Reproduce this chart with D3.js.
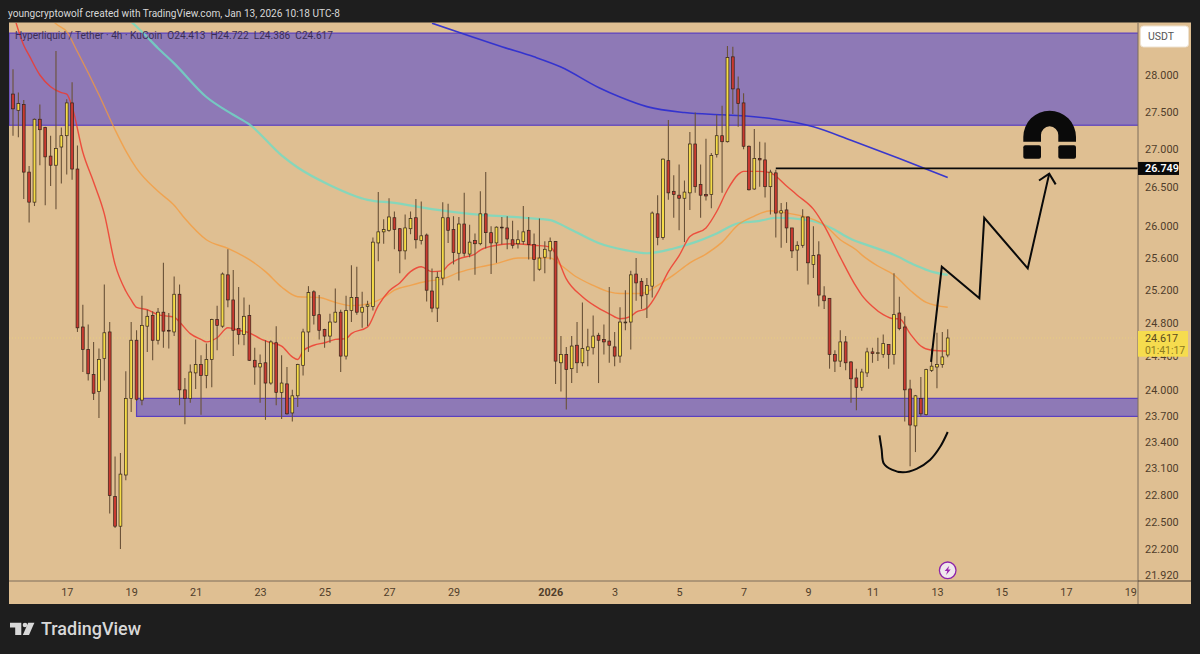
<!DOCTYPE html>
<html>
<head>
<meta charset="utf-8">
<script src="https://cdn.jsdelivr.net/npm/d3@7"></script>
<style>
html,body{margin:0;padding:0;background:#1e1e1e;overflow:hidden}
svg{display:block}
text{font-family:Roboto,"Noto Sans",sans-serif}
</style>
</head>
<body>
<svg id="c" width="1200" height="654"></svg>
<script>
const opens=[27.74,27.52,27.60,26.70,26.31,27.40,27.29,26.91,26.79,27.03,
27.18,27.62,26.74,24.75,24.48,24.18,23.98,24.37,24.69,22.78,
22.45,23.02,23.90,24.59,23.88,24.76,24.89,24.59,24.93,24.71,
24.69,25.15,24.00,23.90,24.20,24.30,24.17,24.36,24.84,24.76,
25.39,25.08,24.73,24.66,24.89,24.35,24.27,24.32,24.08,24.56,
23.97,24.07,23.73,23.93,24.29,24.69,25.18,24.90,24.72,24.64,
24.81,24.93,24.40,24.95,25.11,24.93,25.00,25.00,25.79,25.93,
25.95,26.11,25.97,25.69,25.97,26.11,25.82,25.89,25.19,24.98,
25.35,26.11,25.96,25.66,26.03,25.65,25.82,25.78,26.16,25.92,
25.79,25.99,25.98,25.83,25.78,25.81,25.95,25.77,25.46,25.61,
25.69,25.81,24.32,24.42,24.25,24.53,24.32,24.47,24.50,24.65,
24.60,24.58,24.51,24.40,24.80,24.81,25.40,25.31,25.15,25.25,
26.16,25.86,26.85,26.45,26.40,26.36,26.43,27.07,26.54,26.41,
26.41,26.93,27.18,27.10,28.25,27.81,27.62,27.04,26.48,26.88,
26.86,26.51,26.69,26.17,26.21,25.98,25.70,25.76,26.12,25.52,
25.64,25.13,25.10,24.42,24.34,24.57,24.33,24.14,24.03,24.20,
24.45,24.43,24.42,24.54,24.42,24.92,24.75,24.01,23.58,23.90,
23.71,24.23,24.27,24.30,24.413];
const closes=[27.54,27.61,26.70,26.31,27.40,27.26,26.90,26.79,27.01,27.18,
27.62,26.74,24.74,24.48,24.19,23.96,24.36,24.68,22.79,22.45,
23.03,23.90,24.59,23.89,24.77,24.88,24.59,24.93,24.70,24.70,
25.15,24.00,23.90,24.21,24.30,24.17,24.36,24.84,24.77,25.40,
25.08,24.71,24.66,24.88,24.35,24.27,24.31,24.08,24.57,23.97,
24.08,23.72,23.93,24.30,24.69,25.17,24.89,24.71,24.64,24.81,
24.93,24.40,24.95,25.11,24.93,24.99,25.02,25.80,25.93,25.96,
26.12,25.96,25.69,25.98,26.10,25.83,25.88,25.20,24.98,25.36,
26.11,25.95,25.67,26.03,25.66,25.80,25.78,26.16,25.92,25.79,
25.99,25.98,25.84,25.76,25.83,25.93,25.77,25.58,25.60,25.71,
25.81,24.34,24.42,24.24,24.52,24.32,24.49,24.51,24.64,24.59,
24.57,24.53,24.40,24.81,24.81,25.39,25.29,25.13,25.26,26.17,
25.86,26.87,26.43,26.41,26.36,26.44,27.07,26.51,26.40,26.39,
26.92,27.18,27.10,28.24,27.81,27.61,27.04,26.47,26.88,26.86,
26.51,26.70,26.17,26.20,25.98,25.69,25.76,26.12,25.54,25.63,
25.14,25.07,24.42,24.34,24.57,24.32,24.13,24.03,24.21,24.45,
24.43,24.44,24.55,24.42,24.90,24.73,24.00,23.59,23.93,23.72,
24.24,24.28,24.30,24.39,24.617];
const highs=[28.08,27.76,27.66,26.78,27.41,27.60,27.30,27.18,28.33,27.29,
27.67,27.90,27.05,25.02,24.78,24.57,24.49,25.27,24.81,23.23,
23.27,24.22,24.81,24.71,25.13,24.96,24.94,24.98,25.54,24.92,
25.37,25.27,24.14,24.30,24.60,24.41,24.55,24.85,25.01,25.42,
25.71,25.45,25.24,25.11,25.02,24.50,24.42,24.59,24.59,24.76,
24.41,24.27,24.00,24.31,24.73,25.25,25.20,25.14,24.73,24.91,
25.22,24.96,25.13,25.51,25.49,25.18,25.07,25.86,26.44,26.09,
26.36,26.19,25.98,26.15,26.19,26.35,26.32,25.91,25.47,25.43,
26.31,26.29,26.13,26.12,26.43,26.02,25.91,26.45,26.70,26.00,
26.00,26.12,26.13,26.07,25.95,26.26,26.12,25.91,26.10,25.81,
25.86,25.81,24.64,24.51,24.64,24.81,25.05,24.73,24.89,24.68,
24.78,25.24,24.69,24.99,25.20,25.44,25.60,25.35,25.35,26.19,
26.40,26.88,27.39,26.66,26.80,26.59,27.23,27.49,26.80,27.14,
26.95,27.46,27.58,28.40,28.39,27.98,27.75,27.05,27.27,27.10,
27.09,26.73,26.73,26.30,26.31,25.98,25.81,26.22,26.13,26.00,
25.81,25.25,25.10,24.47,24.71,24.64,24.34,24.25,24.25,24.50,
24.50,24.62,24.66,24.54,25.41,25.12,24.88,24.12,23.94,24.15,
24.25,24.49,24.68,24.69,24.722];
const lows=[27.18,27.16,26.35,26.05,26.26,26.79,26.27,26.52,26.22,26.55,
26.67,26.60,24.69,24.21,24.11,23.88,23.67,24.11,22.59,22.43,
22.20,22.96,23.74,23.87,23.82,24.45,24.35,24.54,24.50,24.49,
24.64,23.82,23.60,23.85,24.01,23.71,24.02,24.03,24.47,24.74,
24.99,24.40,24.54,24.53,24.34,24.06,23.85,23.65,24.06,23.82,
23.66,23.71,23.63,23.80,24.17,24.45,24.78,24.60,24.50,24.56,
24.80,24.21,24.36,24.81,24.90,24.74,24.76,24.95,25.56,25.78,
25.93,25.71,25.41,25.58,25.90,25.72,25.77,25.06,24.93,24.81,
25.26,25.79,25.52,25.32,25.62,25.61,25.39,25.76,25.72,25.40,
25.54,25.77,25.71,25.72,25.72,25.77,25.58,25.31,25.44,25.41,
25.58,24.07,23.98,23.77,24.08,24.20,24.28,24.28,24.42,24.08,
24.42,24.32,24.28,24.32,24.71,24.48,25.07,24.97,24.86,25.11,
25.76,25.83,26.34,26.11,25.95,25.80,26.21,26.43,26.11,26.33,
26.23,26.89,26.43,27.09,27.47,27.30,27.00,26.46,26.47,26.51,
26.37,26.15,25.86,25.73,25.79,25.60,25.44,25.73,25.27,25.35,
25.00,24.97,24.25,24.21,24.27,24.23,23.85,23.76,23.99,24.15,
24.32,24.34,24.38,24.25,24.30,24.71,23.63,23.12,23.28,23.69,
23.70,24.21,24.02,24.26,24.386];

const redIdx=[0,2,3,5,7,9,10,11,13,15,17,19,21,22,23,25,27,29,30,31,33,35,36,38,40,42,44,46,48,50,52,53,54,56,58,60,62,63,66,68,70,72,74,76,78,80,81,83,86,87,90,93,97,100,101,103,106,109,111,113,115,116,118,120,122,124,126,129,131,133,135,136,139,141,144,146,149,151,154,157,158,160,162,164,165,167,169,171,174];
const redVal=[28.87,28.41,28.27,28.00,27.84,27.76,27.74,27.57,26.96,26.57,26.16,25.52,25.19,25.08,24.99,24.96,24.90,24.88,24.87,24.81,24.67,24.60,24.57,24.62,24.74,24.71,24.68,24.61,24.56,24.52,24.39,24.36,24.46,24.53,24.56,24.60,24.61,24.67,24.75,25.01,25.19,25.29,25.43,25.49,25.43,25.44,25.51,25.59,25.65,25.70,25.76,25.78,25.76,25.74,25.65,25.34,25.12,24.98,24.91,24.85,24.88,24.93,24.98,25.17,25.43,25.63,25.87,25.98,26.19,26.47,26.67,26.71,26.71,26.69,26.52,26.40,26.22,26.01,25.61,25.24,25.14,25.00,24.90,24.85,24.85,24.67,24.52,24.47,24.46];
const orangeIdx=[7,8,10,12,16,19,21,23,27,30,32,36,40,44,47,50,53,57,60,63,66,69,71,74,77,80,83,87,90,94,97,100,102,105,108,111,113,117,120,123,126,129,132,135,138,141,144,148,151,154,157,158,161,164,167,170,174];
const orangeVal=[28.79,28.71,28.60,28.32,27.73,27.26,26.98,26.75,26.45,26.27,26.10,25.83,25.72,25.58,25.43,25.24,25.12,25.11,25.05,25.01,25.03,25.11,25.20,25.26,25.31,25.34,25.42,25.49,25.53,25.60,25.60,25.60,25.51,25.36,25.26,25.18,25.16,25.16,25.26,25.39,25.54,25.65,25.80,26.02,26.13,26.20,26.17,26.11,26.02,25.83,25.70,25.64,25.50,25.39,25.20,25.05,24.99];
const tealIdx=[22,24,27,30,36,41,44,50,53,59,66,71,78,85,95,100,103,109,114,118,123,127,131,135,139,142,148,152,156,160,164,168,171,174];
const tealVal=[28.74,28.60,28.37,28.16,27.70,27.46,27.33,26.92,26.76,26.53,26.34,26.30,26.22,26.16,26.11,26.08,25.99,25.79,25.70,25.66,25.72,25.80,25.91,26.04,26.07,26.11,26.08,25.99,25.84,25.74,25.64,25.51,25.43,25.39];
const blueIdx=[78,85,91,97,102,109,113,118,125,132,137,142,149,156,165,174];
const blueVal=[28.72,28.54,28.39,28.25,28.11,27.83,27.70,27.57,27.49,27.46,27.44,27.40,27.30,27.12,26.88,26.63];

const zigIdx=[170.9,172.9,179.9,180.8,188.9,192.9];
const zigVal=[24.33,25.49,25.10,26.11,25.47,26.68];
const headIdx=[191.0,192.9,194.1];
const headVal=[26.59,26.68,26.54];
const smileIdx=[161.3,161.7,162.1,163.6,165.7,168.2,170.7,172.6,174];
const smileVal=[23.47,23.31,23.15,23.08,23.05,23.09,23.19,23.34,23.51];

const upperZone=[28.58,27.32];
const lowerZone=[23.90,23.69];
const lowerZoneStart=23;
const targetPrice=26.749, targetStart=142;
const lastPrice=24.617, countdown="01:41:17";
const priceTicks=[28,27.5,27,26.5,26,25.6,25.2,24.8,24.4,24,23.7,23.4,23.1,22.8,22.5,22.2,21.92];
const dateTickIdx=[10,22,34,46,58,70,82,100,112,124,136,148,160,172,184,196,208];
const dateTickLabels=["17","19","21","23","25","27","29","2026","3","5","7","9","11","13","15","17","19"];
const headerText="youngcryptowolf created with TradingView.com, Jan 13, 2026 10:18 UTC-8";
const legendText="Hyperliquid / Tether · 4h · KuCoin  O24.413  H24.722  L24.386  C24.617";

const L=9,R=1138,RR=1191,T=23,B=581,BB=604;
const svg=d3.select("#c");
const x=d3.scaleLinear().domain([0,174]).range([13,947.7]);
const y=d3.scaleLog().domain([21.92,28]).range([575,75]);

svg.append("rect").attr("x",L).attr("y",T-.5).attr("width",RR-L).attr("height",BB-T+.5).attr("fill","#dfbf92");
svg.append("defs").append("clipPath").attr("id","plot").append("rect").attr("x",L).attr("y",T).attr("width",R-L).attr("height",B-T);
const plot=svg.append("g").attr("clip-path","url(#plot)");

// zones
const zones=[{a:upperZone[0],b:upperZone[1],x0:L},{a:lowerZone[0],b:lowerZone[1],x0:x(lowerZoneStart)}];
plot.selectAll("rect.z").data(zones).join("rect").attr("class","z")
 .attr("x",d=>d.x0).attr("width",d=>R-d.x0+2)
 .attr("y",d=>y(d.a)).attr("height",d=>y(d.b)-y(d.a))
 .attr("fill","#8e79b6").attr("stroke","#5a3fc0").attr("stroke-width",1.2);

// last price line
plot.append("line").attr("x1",L).attr("x2",R).attr("y1",y(lastPrice)).attr("y2",y(lastPrice))
 .attr("stroke","#f3d872").attr("stroke-opacity",.55).attr("stroke-dasharray","1 2");

// MAs
const lineGen=d3.line().x(d=>x(d[0])).y(d=>y(d[1])).curve(d3.curveMonotoneX);
const series=[[tealIdx,tealVal,"#6fdcc4",2.2,.8],[blueIdx,blueVal,"#2f2fd0",1.6,.95],[orangeIdx,orangeVal,"#f59a3a",1.4,.75],[redIdx,redVal,"#ee3a2e",1.4,.85]];
series.forEach(s=>{
 plot.append("path").datum(s[0].map((v,i)=>[v,s[1][i]])).attr("d",lineGen)
  .attr("fill","none").attr("stroke",s[2]).attr("stroke-width",s[3]).attr("stroke-opacity",s[4]);
});

// candles
const idx=d3.range(opens.length);
plot.selectAll("line.w").data(idx).join("line").attr("class","w")
 .attr("x1",i=>x(i)).attr("x2",i=>x(i)).attr("y1",i=>y(highs[i])).attr("y2",i=>y(lows[i]))
 .attr("stroke","#6a5238").attr("stroke-width",1.1);
plot.selectAll("rect.b").data(idx).join("rect").attr("class","b")
 .attr("x",i=>x(i)-1.4).attr("width",2.8)
 .attr("y",i=>y(Math.max(opens[i],closes[i])))
 .attr("height",i=>Math.max(0.8,Math.abs(y(opens[i])-y(closes[i]))))
 .attr("fill",i=>closes[i]>=opens[i]?"#f5dc48":"#c93a30")
 .attr("stroke","#33231a").attr("stroke-width",.7);

// annotations
plot.append("line").attr("x1",x(targetStart)).attr("x2",R).attr("y1",y(targetPrice)).attr("y2",y(targetPrice)).attr("stroke","#0a0a0a").attr("stroke-width",1.7);
const annot=(ix,v,curve,w)=>plot.append("path").datum(ix.map((d,i)=>[d,v[i]]))
 .attr("d",d3.line().x(d=>x(d[0])).y(d=>y(d[1])).curve(curve))
 .attr("fill","none").attr("stroke","#0a0a0a").attr("stroke-width",w).attr("stroke-linejoin","miter");
annot(zigIdx,zigVal,d3.curveLinear,2);
annot(headIdx,headVal,d3.curveLinear,2);
annot(smileIdx,smileVal,d3.curveCatmullRom,2);

// magnet icon
plot.append("path").attr("fill","#0a0a0a")
 .attr("d","M1023.3 141.7V137A26.35 26.35 0 0 1 1076 137V141.7H1058.3V135A8.65 8.65 0 0 0 1041 135V141.7Z");
plot.append("rect").attr("x",1023.3).attr("y",145.3).attr("width",17.7).attr("height",13.4).attr("rx",2).attr("fill","#0a0a0a");
plot.append("rect").attr("x",1058.3).attr("y",145.3).attr("width",17.7).attr("height",13.4).attr("rx",2).attr("fill","#0a0a0a");

// bolt badge
const badge=plot.append("g").attr("transform","translate(947.7,570.3)");
badge.append("circle").attr("r",8.3).attr("fill","#f0e8ee").attr("stroke","#8e24aa").attr("stroke-width",1.3);
badge.append("path").attr("d","M1.6 -4.6L-3 0.6H-0.4L-1.6 4.6L3 -0.8H0.4Z").attr("fill","#9c27b0");

// frame lines
svg.append("line").attr("x1",R).attr("x2",R).attr("y1",T).attr("y2",BB).attr("stroke","#7c6c5a").attr("stroke-width",1);
svg.append("line").attr("x1",L).attr("x2",R).attr("y1",B).attr("y2",B).attr("stroke","#7c6c5a").attr("stroke-width",1);
svg.append("line").attr("x1",R).attr("x2",RR).attr("y1",B).attr("y2",B).attr("stroke","#4a3d30").attr("stroke-width",1);

// axes
const yAxis=d3.axisRight(y).tickValues(priceTicks).tickSize(0).tickPadding(7).tickFormat(d3.format(".3f"));
const gy=svg.append("g").attr("transform",`translate(${R},0)`).call(yAxis);
gy.select(".domain").remove();
gy.selectAll("text").attr("fill","#4f3d2a").attr("font-size",10.8).style("letter-spacing","0.1px");
const xAxis=d3.axisBottom(x).tickValues(dateTickIdx).tickSize(0).tickPadding(7).tickFormat((d,i)=>dateTickLabels[i]);
const gx=svg.append("g").attr("transform",`translate(0,${B})`).call(xAxis);
gx.select(".domain").remove();
gx.selectAll("text").attr("fill","#4f3d2a").attr("font-size",10.8).attr("font-weight",(d,i)=>dateTickLabels[i]==="2026"?700:400);

// price tags
svg.append("rect").attr("x",R).attr("y",y(lastPrice)-7).attr("width",50).attr("height",25.7).attr("fill","#f6dc4e");
svg.append("text").attr("x",1145).attr("y",y(lastPrice)+3.8).attr("font-size",10.8).attr("fill","#5a4a1e").text(d3.format(".3f")(lastPrice));
svg.append("text").attr("x",1145).attr("y",y(lastPrice)+15.6).attr("font-size",10.4).attr("fill","#8c7a20").text(countdown);
svg.append("rect").attr("x",R).attr("y",y(targetPrice)-6.4).attr("width",41).attr("height",13).attr("fill","#0a0a0a");
svg.append("text").attr("x",1145).attr("y",y(targetPrice)+3.8).attr("font-size",10.8).attr("font-weight",600).attr("fill","#ffffff").text(d3.format(".3f")(targetPrice));
svg.append("rect").attr("x",1140.5).attr("y",26).attr("width",48).attr("height",21).attr("rx",3).attr("fill","#ffffff").attr("stroke","#eee2d0");
svg.append("text").attr("x",1148).attr("y",40).attr("font-size",10.5).attr("fill","#555").text("USDT");

// header, legend
svg.append("text").attr("x",8).attr("y",17).attr("font-size",11).attr("fill","#d8d8d8")
 .attr("textLength",332).attr("lengthAdjust","spacingAndGlyphs").text(headerText);
svg.append("text").attr("x",15).attr("y",39).attr("font-size",10.6).attr("fill","#3b2e55").style("white-space","pre")
 .attr("textLength",318).attr("lengthAdjust","spacingAndGlyphs").text(legendText);

// TradingView logo
const logo=svg.append("g").attr("fill","#d8d8d8");
logo.append("path").attr("d","M10 622.7H21.3V635H15.2V627.4H10Z");
logo.append("circle").attr("cx",25).attr("cy",625).attr("r",2.3);
logo.append("path").attr("d","M28.2 622.7H34.4L29 635H22.8Z");
svg.append("text").attr("x",41).attr("y",635).attr("font-size",18.8).attr("font-weight",500).attr("fill","#d8d8d8")
 .attr("textLength",100).attr("lengthAdjust","spacingAndGlyphs").text("TradingView");
</script>
</body>
</html>
